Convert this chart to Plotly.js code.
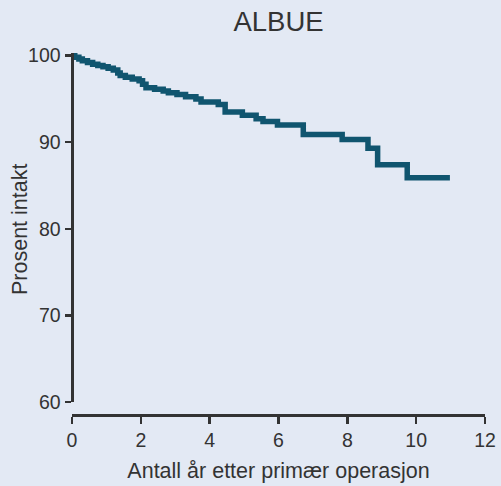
<!DOCTYPE html>
<html>
<head>
<meta charset="utf-8">
<script src="https://cdn.plot.ly/plotly-3.0.1.min.js"></script>
<style>
html,body{margin:0;padding:0;background:#e3e9f4;}
#chart{width:501px;height:486px;}
</style>
</head>
<body>
<div id="chart"></div>
<script>
// Kaplan-Meier style survival (percent intact) by years after primary operation
const years = [0, 0.08, 0.2, 0.3, 0.45, 0.6, 0.75, 0.9, 1.05, 1.2, 1.33, 1.4, 1.55, 1.75, 1.95, 2.05, 2.15, 2.4, 2.65, 2.8, 3.05, 3.3, 3.6, 3.75, 4.25, 4.45, 4.95, 5.35, 5.55, 5.97, 6.72, 7.85, 8.6, 8.88, 9.74, 10.98];
const percentIntact = [100, 99.8, 99.6, 99.4, 99.2, 99.0, 98.85, 98.7, 98.55, 98.35, 98.0, 97.7, 97.5, 97.3, 97.1, 96.7, 96.3, 96.1, 95.9, 95.7, 95.5, 95.25, 95.0, 94.65, 94.35, 93.5, 93.1, 92.7, 92.4, 92.0, 90.9, 90.3, 89.3, 87.4, 85.9, 85.9];
const xTicks = [0, 2, 4, 6, 8, 10, 12];
const yTicks = [60, 70, 80, 90, 100];
const titleText = 'ALBUE';
const xTitle = 'Antall år etter primær operasjon';
const yTitle = 'Prosent intakt';

const axisColor = '#333333';
const fontFam = '"Liberation Sans", Arial, Helvetica, sans-serif';

const trace = {
  x: years,
  y: percentIntact,
  type: 'scatter',
  mode: 'lines',
  line: {shape: 'hv', color: '#10556f', width: 5.5},
  hoverinfo: 'x+y'
};

const layout = {
  width: 501,
  height: 486,
  paper_bgcolor: '#e3e9f4',
  plot_bgcolor: '#e3e9f4',
  margin: {l: 72, r: 16, t: 53, b: 71, pad: 0},
  showlegend: false,
  font: {family: fontFam, color: axisColor},
  title: {
    text: titleText,
    font: {size: 27.5, color: axisColor, family: fontFam},
    x: 0.5, xref: 'paper',
    y: 0.955, yref: 'container', yanchor: 'middle'
  },
  xaxis: {
    range: [0, 12],
    domain: [0, 1],
    anchor: 'free',
    position: 0,
    tickvals: xTicks,
    ticks: 'outside',
    ticklen: 7,
    tickwidth: 2.5,
    tickcolor: axisColor,
    showline: true,
    linecolor: axisColor,
    linewidth: 2.5,
    showgrid: false,
    zeroline: false,
    tickfont: {size: 19.5, color: axisColor},
    title: {text: xTitle, font: {size: 21.5, color: axisColor}, standoff: 12}
  },
  yaxis: {
    range: [60, 100.3],
    domain: [13/362, 1],
    anchor: 'free',
    position: 0,
    tickvals: yTicks,
    ticks: 'outside',
    ticklen: 6.5,
    tickwidth: 2.5,
    tickcolor: axisColor,
    showline: true,
    linecolor: axisColor,
    linewidth: 2.5,
    showgrid: false,
    zeroline: false,
    tickfont: {size: 19.5, color: axisColor}
  },
  annotations: [{
    text: yTitle,
    textangle: -90,
    xref: 'paper', yref: 'paper',
    x: (20 - 72) / 413, y: (415 - 229) / 362,
    xanchor: 'center', yanchor: 'middle',
    showarrow: false,
    font: {size: 21.5, color: axisColor, family: fontFam}
  }]
};

Plotly.newPlot('chart', [trace], layout, {displayModeBar: false, staticPlot: true});
</script>
</body>
</html>
